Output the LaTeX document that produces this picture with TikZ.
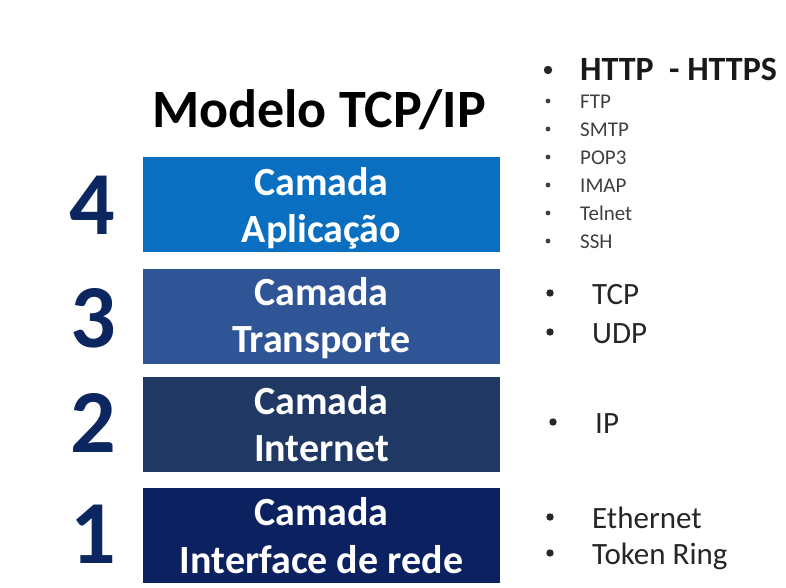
\documentclass[tikz,border=0pt]{standalone}
\usepackage{fontspec}
\setmainfont{Carlito}
\definecolor{appblue}{HTML}{0A6FC0}
\definecolor{trpblue}{HTML}{2F5597}
\definecolor{netblue}{HTML}{203864}
\definecolor{ifcblue}{HTML}{0B2160}
\definecolor{numblue}{HTML}{0C2660}
\definecolor{mainink}{HTML}{262626}
\definecolor{softink}{HTML}{3F3F3F}
\begin{document}
\begin{tikzpicture}[x=1pt,y=-1pt,
  layer/.style={draw=none, minimum width=357pt, minimum height=95pt, inner sep=0pt, outer sep=0pt},
  num/.style={font=\bfseries\fontsize{90}{90}\selectfont, text=numblue, inner sep=0pt},
  lbl/.style={font=\bfseries\fontsize{40}{47}\selectfont, text=white, anchor=base, inner sep=0pt},
  proto/.style={font=\fontsize{31}{36}\selectfont, text=mainink, anchor=base west, inner sep=0pt},
  minor/.style={font=\fontsize{21}{25}\selectfont, text=softink, anchor=base west, inner sep=0pt},
  bigdot/.style={fill=mainink},
  smalldot/.style={fill=softink}
]
\useasboundingbox (0,0) rectangle (786,588);

% title
\node[font=\bfseries\fontsize{54}{60}\selectfont, text=black, anchor=base, inner sep=0pt] (title) at (319,128) {Modelo TCP/IP};

% layer boxes
\node[layer, fill=appblue] (L4) at (321.5,204.5) {};
\node[layer, fill=trpblue] (L3) at (321.5,316) {};
\node[layer, fill=netblue] (L2) at (321.5,424.5) {};
\node[layer, fill=ifcblue] (L1) at (321.5,535.5) {};

% layer names
\node[lbl] (L4a) at (321.5,195) {Camada};
\node[lbl] (L4b) at (321.5,242) {Aplicação};
\node[lbl] (L3a) at (321.5,305) {Camada};
\node[lbl] (L3b) at (321.5,352) {Transporte};
\node[lbl] (L2a) at (321.5,414) {Camada};
\node[lbl] (L2b) at (321.5,461) {Internet};
\node[lbl] (L1a) at (321.5,525) {Camada};
\node[lbl] (L1b) at (321.5,573) {Interface de rede};

% layer numbers
\node[num] (n4) at (92,205) {4};
\node[num] (n3) at (93,318) {3};
\node[num] (n2) at (93,423) {2};
\node[num] (n1) at (93,534) {1};

% application protocols
\fill[bigdot] (548,70) circle (4.2);
\node[font=\bfseries\fontsize{34}{40}\selectfont, text=black!90, anchor=base west, inner sep=0pt] (http) at (580,81) {HTTP\ \ - HTTPS};
\foreach \y/\t/\n in {101/FTP/ftp, 129/SMTP/smtp, 157/POP3/pop, 185/IMAP/imap, 213/Telnet/telnet, 241/SSH/ssh}{
  \fill[smalldot] (548,\y) circle (2.4);
  \node[minor] (\n) at (580,\y+7.5) {\t};
}

% transport protocols
\fill[bigdot] (550,293) circle (3.7);
\node[proto] (tcp) at (592,304) {TCP};
\fill[bigdot] (550,332) circle (3.7);
\node[proto] (udp) at (592,343) {UDP};

% internet protocol
\fill[bigdot] (553,422) circle (3.7);
\node[proto] (ip) at (595,433) {IP};

% link protocols
\fill[bigdot] (550,517) circle (3.7);
\node[proto] (eth) at (592,528) {Ethernet};
\fill[bigdot] (550,553) circle (3.7);
\node[proto] (token) at (592,564) {Token Ring};
\end{tikzpicture}
\end{document}
